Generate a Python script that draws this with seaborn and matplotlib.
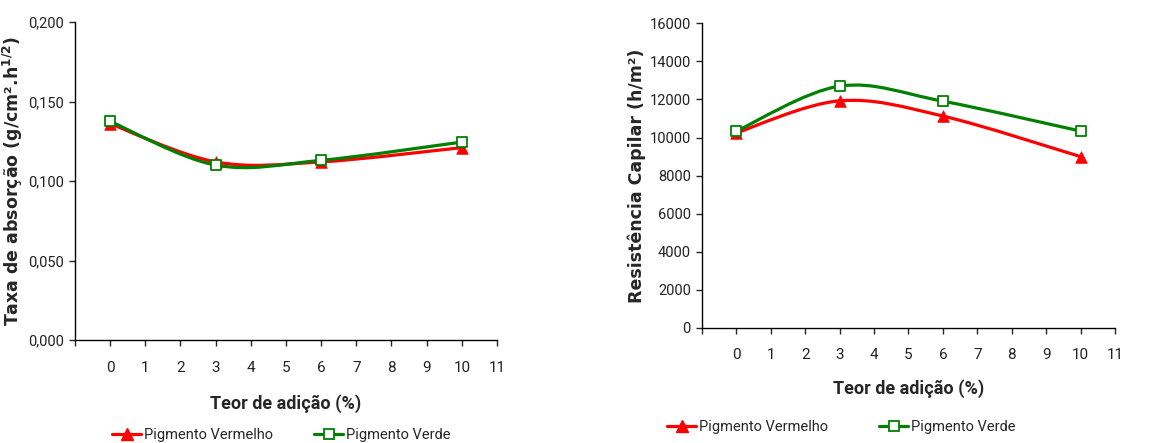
import numpy as np
import pandas as pd
import seaborn as sns
import matplotlib.pyplot as plt
from matplotlib.path import Path
from matplotlib.patches import PathPatch
from matplotlib.lines import Line2D

# Data
teor = [0, 3, 6, 10]
taxa_vermelho = [0.136, 0.112, 0.112, 0.121]
taxa_verde = [0.1375, 0.110, 0.113, 0.1245]
resist_vermelho = [10250, 11930, 11130, 9000]
resist_verde = [10340, 12700, 11910, 10340]

x_ticks = list(range(-1, 12))
x_ticklabels = [''] + [str(i) for i in range(0, 12)]
taxa_ticks = [0.0, 0.05, 0.10, 0.15, 0.20]
taxa_ticklabels = ['0,000', '0,050', '0,100', '0,150', '0,200']
resist_ticks = list(range(0, 16001, 2000))

RED = '#FF0000'
GREEN = '#008000'
TICKFONT = 'Roboto'

sns.set_style('ticks')
plt.rcParams['font.family'] = ['DejaVu Sans']


def smooth_path(xs, ys):
    # Excel-like smoothed line: Catmull-Rom turned into cubic Bezier segments
    pts = np.column_stack([xs, ys]).astype(float)
    n = len(pts)
    verts = [pts[0]]
    codes = [Path.MOVETO]
    for i in range(n - 1):
        p0 = pts[i - 1] if i > 0 else pts[i]
        p1 = pts[i]
        p2 = pts[i + 1]
        p3 = pts[i + 2] if i + 2 < n else pts[i + 1]
        c1 = p1 + (p2 - p0) / 6.0
        c2 = p2 - (p3 - p1) / 6.0
        verts += [c1, c2, p2]
        codes += [Path.CURVE4] * 3
    return Path(verts, codes)


def draw_series(ax, ys_red, ys_green):
    ax.add_patch(PathPatch(smooth_path(teor, ys_red), fill=False,
                           edgecolor=RED, lw=2.3, zorder=2))
    ax.add_patch(PathPatch(smooth_path(teor, ys_green), fill=False,
                           edgecolor=GREEN, lw=2.3, zorder=3))
    df = pd.DataFrame({'x': teor, 'r': ys_red, 'g': ys_green})
    sns.scatterplot(data=df, x='x', y='r', ax=ax, marker='^', s=70,
                    color=RED, edgecolor=RED, linewidth=0.5, zorder=4)
    sns.scatterplot(data=df, x='x', y='g', ax=ax, marker='s', s=55,
                    facecolor='white', edgecolor=GREEN, linewidth=1.3, zorder=5)


def style_axes(ax, yticks, yticklabels, ylim, xpad):
    ax.set_xlim(-1, 11)
    ax.set_ylim(*ylim)
    ax.set_xticks(x_ticks)
    ax.set_xticklabels(x_ticklabels, fontfamily=TICKFONT, fontsize=11, color='#222222')
    ax.set_yticks(yticks)
    ax.set_yticklabels(yticklabels, fontfamily=TICKFONT, fontsize=10.5, color='#222222')
    ax.tick_params(axis='x', direction='out', length=4, width=1, pad=xpad)
    ax.tick_params(axis='y', direction='out', length=4, width=1, pad=4)
    for s in ['top', 'right']:
        ax.spines[s].set_visible(False)
    for s in ['left', 'bottom']:
        ax.spines[s].set_linewidth(1)
        ax.spines[s].set_color('black')


fig = plt.figure(figsize=(11.68, 4.43), dpi=100)
ax1 = fig.add_axes([0.0642, 0.2325, 0.3613, 0.7178])
ax2 = fig.add_axes([0.601, 0.2596, 0.3536, 0.6878])

draw_series(ax1, taxa_vermelho, taxa_verde)
style_axes(ax1, taxa_ticks, taxa_ticklabels, (0, 0.2), 11)
ax1.set_xlabel('Teor de adição (%)', fontfamily=TICKFONT, fontweight='bold',
               fontsize=13, labelpad=14)
ax1.set_ylabel('Taxa de absorção (g/cm².h$^{\\mathbf{1/2}}$)',
               fontweight='bold', fontsize=12.5)
ax1.yaxis.set_label_coords(-0.118, 0.5)

draw_series(ax2, resist_vermelho, resist_verde)
style_axes(ax2, resist_ticks, [str(v) for v in resist_ticks], (0, 16000), 10.5)
ax2.set_xlabel('Teor de adição (%)', fontfamily=TICKFONT, fontweight='bold',
               fontsize=13, labelpad=12)
ax2.set_ylabel('Resistência Capilar (h/m²)', fontweight='bold', fontsize=12.5)
ax2.yaxis.set_label_coords(-0.135, 0.5)

handles = [Line2D([], [], color=RED, lw=2.3, marker='^', markersize=9,
                  markeredgecolor=RED),
           Line2D([], [], color=GREEN, lw=2.3, marker='s', markersize=7.5,
                  markerfacecolor='white', markeredgecolor=GREEN, markeredgewidth=1.3)]
labels = ['Pigmento Vermelho', 'Pigmento Verde']

fig.legend(handles, labels, loc='center left', bbox_to_anchor=(112 / 1168, 1 - 435 / 443),
           ncol=2, frameon=False, handlelength=2.0, handletextpad=0.2,
           columnspacing=2.8, borderpad=0, borderaxespad=0,
           prop={'family': TICKFONT, 'size': 10.5})
fig.legend(handles, labels, loc='center left', bbox_to_anchor=(667 / 1168, 1 - 427 / 443),
           ncol=2, frameon=False, handlelength=2.0, handletextpad=0.2,
           columnspacing=3.5, borderpad=0, borderaxespad=0,
           prop={'family': TICKFONT, 'size': 10.5})

fig.savefig('out.png', dpi=100)
